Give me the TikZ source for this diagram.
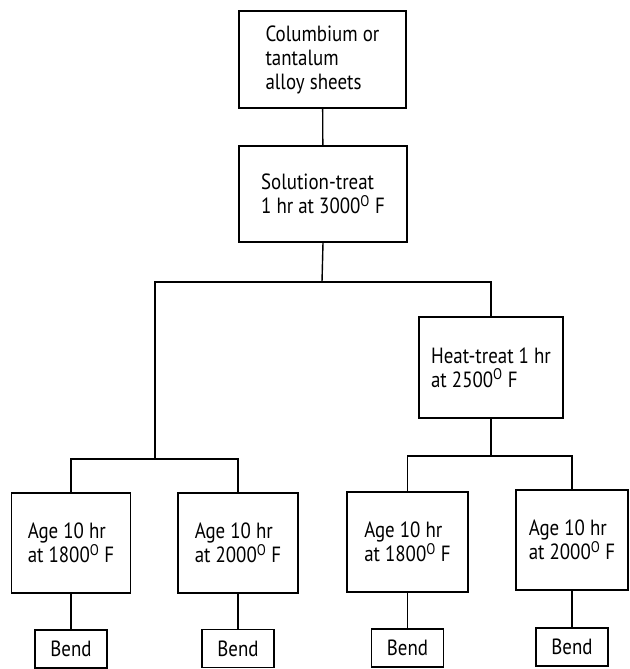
\documentclass[tikz,border=0pt]{standalone}
\usepackage{fontspec}
\setmainfont{PT Sans}[FakeStretch=0.86]
\tikzset{
  stage/.style={draw,line width=1.4pt,align=left,inner sep=2pt,
    font=\fontsize{22}{24}\selectfont},
  bendbox/.style={draw,line width=1.4pt,inner sep=2pt,
    font=\fontsize{22}{24}\selectfont,minimum width=72pt,minimum height=38pt}
}
\newcommand{\degF}[1]{#1\textsuperscript{O}~F}
\begin{document}
\begin{tikzpicture}[x=1pt,y=-1pt,line width=1.4pt]
\useasboundingbox (0,0) rectangle (629,669);
\node[stage,minimum width=167pt,minimum height=97pt](src)at(322.5,59.5){Columbium or\\tantalum\\alloy sheets};
\node[stage,minimum width=168pt,minimum height=96pt](sol)at(323,194){Solution-treat\\1 hr at \degF{3000}};
\node[stage,minimum width=144pt,minimum height=101pt](heat)at(491,367.5){Heat-treat 1 hr\\at \degF{2500}};
\node[stage,minimum width=119pt,minimum height=100pt](a1)at(71,543){Age 10 hr\\at \degF{1800}};
\node[stage,minimum width=120pt,minimum height=100pt](a2)at(238,543){Age 10 hr\\at \degF{2000}};
\node[stage,minimum width=121pt,minimum height=100pt](a3)at(407.5,542){Age 10 hr\\at \degF{1800}};
\node[stage,minimum width=112pt,minimum height=100pt](a4)at(572,540){Age 10 hr\\at \degF{2000}};
\node[bendbox](b1)at(71,649){Bend};
\node[bendbox](b2)at(238,648.5){Bend};
\node[bendbox](b3)at(407.5,648){Bend};
\node[bendbox](b4)at(572,647){Bend};
\coordinate(split)at(322,282);
\coordinate(left)at(155,459);
\coordinate(right)at(491,456);
\draw(src)--(sol);
\draw(sol.south)--(split);
\draw(left)|-(split)-|(heat.north);
\draw(a1.north)|-(left)-|(a2.north);
\draw(heat.south)--(right);
\draw(a3.north)|-(right)-|(a4.north);
\draw(a1)--(b1);
\draw(a2)--(b2);
\draw(a3)--(b3);
\draw(a4)--(b4);
\end{tikzpicture}
\end{document}
